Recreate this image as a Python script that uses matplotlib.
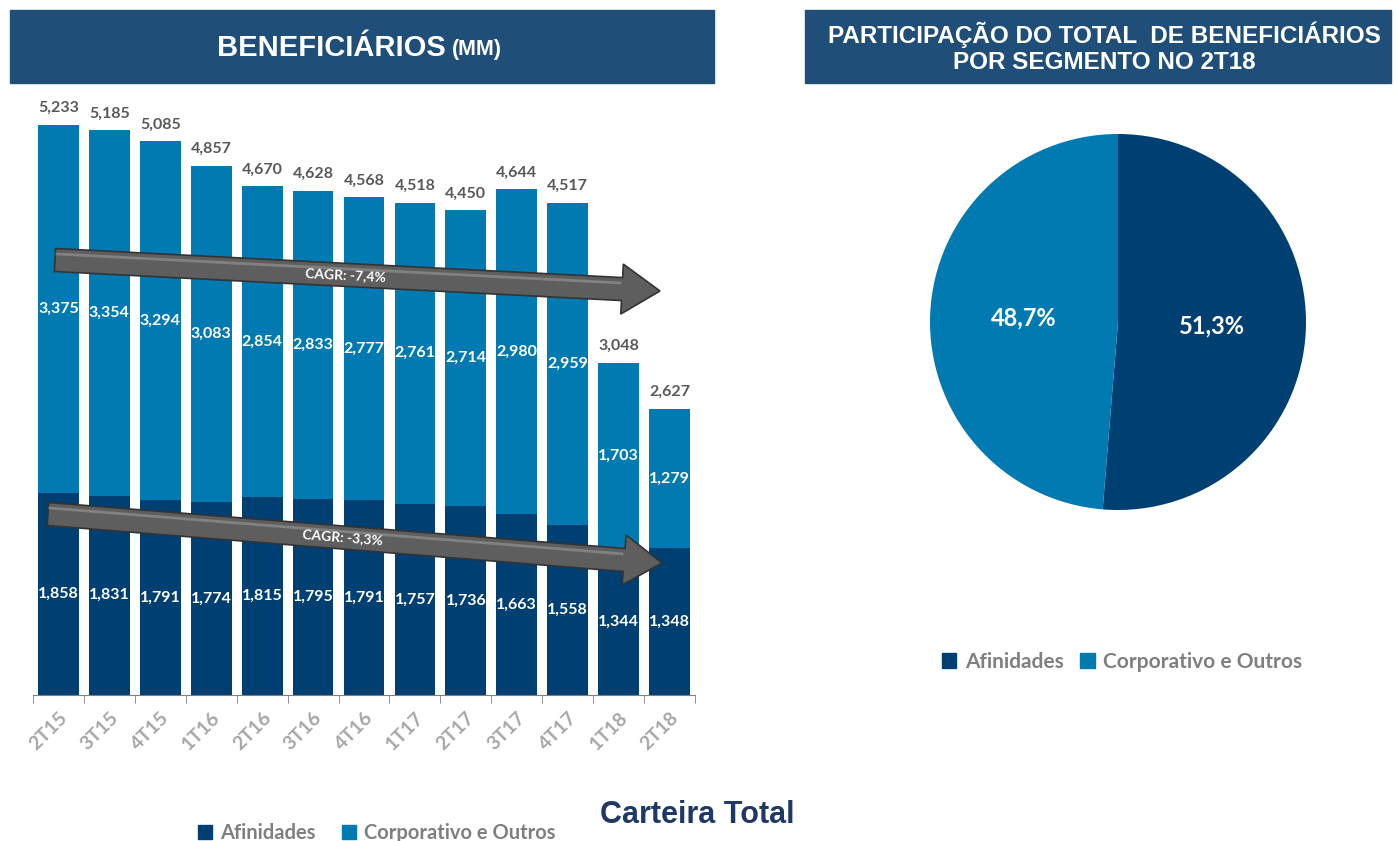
import math
import matplotlib.pyplot as plt
from matplotlib.patches import Rectangle, FancyArrow, Patch
from matplotlib.ticker import FixedLocator

# data
quarters = ["2T15", "3T15", "4T15", "1T16", "2T16", "3T16", "4T16",
            "1T17", "2T17", "3T17", "4T17", "1T18", "2T18"]
afinidades = [1858, 1831, 1791, 1774, 1815, 1795, 1791, 1757, 1736, 1663, 1558, 1344, 1348]
corporativo = [3375, 3354, 3294, 3083, 2854, 2833, 2777, 2761, 2714, 2980, 2959, 1703, 1279]
totals = [5233, 5185, 5085, 4857, 4670, 4628, 4568, 4518, 4450, 4644, 4517, 3048, 2627]
pie_labels = ["Afinidades", "Corporativo e Outros"]
pie_share = [51.3, 48.7]
cagr_total = "CAGR: -7,4%"
cagr_afin = "CAGR: -3,3%"

DARK = '#003F72'
LIGHT = '#007AB1'
BAR_BG = '#1F4E79'
W, H = 1396, 841

def fmt(v):
    return f"{v:,}"

fig = plt.figure(figsize=(W / 100, H / 100), dpi=100)

def px_box(x0, y0, x1, y1):
    return [x0 / W, 1 - y1 / H, (x1 - x0) / W, (y1 - y0) / H]

# title bars
fig.patches.append(Rectangle((10 / W, 1 - 83 / H), 704 / W, 73 / H,
                             transform=fig.transFigure, color=BAR_BG, zorder=0))
fig.patches.append(Rectangle((805 / W, 1 - 83 / H), 586 / W, 73 / H,
                             transform=fig.transFigure, color=BAR_BG, zorder=0))
fig.text(331 / W, 1 - 48 / H, "BENEFICIÁRIOS", color='white', fontsize=21,
         fontweight='bold', ha='center', va='center', family='Liberation Sans')
fig.text(452 / W, 1 - 50 / H, "(MM)", color='white', fontsize=15.5,
         fontweight='bold', ha='left', va='center', family='Liberation Sans')
fig.text(1104 / W, 1 - 48 / H, "PARTICIPAÇÃO DO TOTAL  DE BENEFICIÁRIOS\nPOR SEGMENTO NO 2T18",
         color='white', fontsize=17.5, fontweight='bold', ha='center', va='center',
         linespacing=1.15, family='Liberation Sans')

# bar chart
ax = fig.add_axes(px_box(33, 90, 695, 695))
x = range(len(quarters))
ax.bar(x, afinidades, width=0.8, color=DARK)
ax.bar(x, corporativo, width=0.8, bottom=afinidades, color=LIGHT)
ax.set_xlim(-0.5, len(quarters) - 0.5)
ax.set_ylim(0, 605 / (570 / 5233))
for s in ['left', 'right', 'top']:
    ax.spines[s].set_visible(False)
ax.spines['bottom'].set_color('#7f7f7f')
ax.set_yticks([])
ax.set_xticks(list(x))
ax.set_xticklabels(quarters, rotation=45, ha='right', rotation_mode='anchor',
                   color='#A6A6A6', fontsize=14, fontweight='bold', family='Lato')
ax.tick_params(axis='x', which='major', length=0, pad=10)
ax.xaxis.set_minor_locator(FixedLocator([i - 0.5 for i in range(len(quarters) + 1)]))
ax.tick_params(axis='x', which='minor', length=6, color='#7f7f7f')

for i in x:
    ax.annotate(fmt(totals[i]), (i, totals[i]), xytext=(0, 7), textcoords='offset points',
                ha='center', va='bottom', color='#595959',
                fontsize=11.5, fontweight='bold', family='Lato')
    ax.text(i, afinidades[i] + corporativo[i] / 2, fmt(corporativo[i]), ha='center',
            va='center', color='white', fontsize=11.5, fontweight='bold', family='Lato')
    ax.text(i, afinidades[i] / 2, fmt(afinidades[i]), ha='center', va='center',
            color='white', fontsize=11.5, fontweight='bold', family='Lato')

# overlay for arrows
ov = fig.add_axes([0, 0, 1, 1], zorder=5)
ov.set_xlim(0, W)
ov.set_ylim(H, 0)
ov.axis('off')
ov.patch.set_alpha(0)

def draw_arrow(x0, y0, x1, y1, label):
    ov.add_patch(FancyArrow(x0, y0, x1 - x0, y1 - y0, width=23, head_width=50,
                            head_length=38, length_includes_head=True,
                            facecolor='#5e5e5e', edgecolor='#333333', linewidth=1.2))
    ov.plot([x0 + 2, x1 - 40], [y0 - 6, y1 - 6 - (y1 - y0) * 40 / (x1 - x0)],
            color='#8a8a8a', linewidth=2, alpha=0.8)
    ang = -math.degrees(math.atan2(y1 - y0, x1 - x0))
    mx = x0 + (x1 - x0) * 0.48
    my = y0 + (y1 - y0) * 0.48
    ov.text(mx, my, label, rotation=ang, rotation_mode='anchor', ha='center',
            va='center', color='white', fontsize=10, fontweight='bold', family='Lato')

draw_arrow(55, 260, 660, 291, cagr_total)
draw_arrow(48, 514, 662, 563, cagr_afin)

# left legend
fig.legend(handles=[Patch(color=DARK), Patch(color=LIGHT)],
           labels=pie_labels, loc='center', ncol=2, frameon=False,
           bbox_to_anchor=(377 / W, 1 - 833 / H), handlelength=0.7, handleheight=0.7,
           handletextpad=0.4, columnspacing=1.3,
           prop={'family': 'Lato', 'weight': 'bold', 'size': 14.5}, labelcolor='#7f7f7f')

fig.text(697 / W, 1 - 815 / H, "Carteira Total", ha='center', va='center',
         color='#1F3864', fontsize=22, fontweight='bold', family='Liberation Sans')

# pie
axp = fig.add_axes(px_box(1118 - 188, 322 - 188, 1118 + 188, 322 + 188))
axp.pie(pie_share, colors=[DARK, LIGHT], startangle=90, counterclock=False, radius=1)
axp.set_xlim(-1, 1)
axp.set_ylim(-1, 1)
acc = 90
for v in pie_share:
    mid = acc - v * 3.6 / 2
    acc -= v * 3.6
    axp.text(0.5 * math.cos(math.radians(mid)), 0.5 * math.sin(math.radians(mid)),
             f"{v:.1f}".replace('.', ',') + '%', ha='center', va='center',
             color='white', fontsize=17, fontweight='bold', family='Lato')

fig.legend(handles=[Patch(color=DARK), Patch(color=LIGHT)],
           labels=pie_labels, loc='center', ncol=2, frameon=False,
           bbox_to_anchor=(1122 / W, 1 - 662 / H), handlelength=0.7, handleheight=0.7,
           handletextpad=0.4, columnspacing=0.8,
           prop={'family': 'Lato', 'weight': 'bold', 'size': 15}, labelcolor='#7f7f7f')

fig.savefig('out.png', dpi=100)
